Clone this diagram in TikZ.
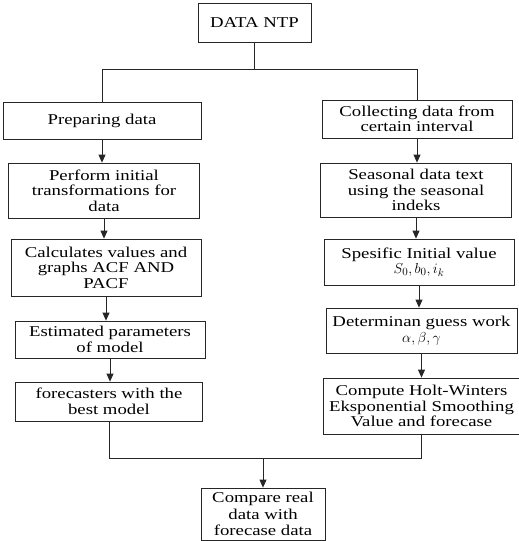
\documentclass[tikz,border=0pt]{standalone}
\usepackage{fontspec}
\setmainfont{Liberation Serif}[FakeStretch=1.25]
\usetikzlibrary{arrows.meta,calc}
\begin{document}
\begin{tikzpicture}[x=1pt,y=-1pt,
  box/.style={draw=black!85,line width=0.8pt,fill=white,inner sep=0pt,align=center,
    font=\fontsize{15}{15.5}\selectfont},
  ln/.style={draw=black!85,line width=0.8pt},
  arr/.style={ln,-{Triangle[width=7pt,length=8pt]}}]
\useasboundingbox (0,0) rectangle (519,541);
\node[box,minimum width=113,minimum height=39] (ntp) at (254.5,22.5) {DATA NTP};
\node[box,minimum width=198,minimum height=37] (prep) at (102,120.5) {Preparing data};
\node[box,minimum width=190,minimum height=38] (coll) at (417,119) {Collecting data from\\certain interval};
\node[box,minimum width=191,minimum height=55] (perf) at (104,190.5) {Perform initial\\transformations for\\data};
\node[box,minimum width=191,minimum height=54] (seas) at (416,190) {Seasonal data text\\using the seasonal\\indeks};
\node[box,minimum width=190,minimum height=57] (calc) at (106,267.5) {Calculates values and\\graphs ACF AND\\PACF};
\node[box,minimum width=190,minimum height=46] (spes) at (419,262) {Spesific Initial value\\$S_0, b_0, i_k$};
\node[box,minimum width=190,minimum height=37] (est) at (110,339.5) {Estimated parameters\\of model};
\node[box,minimum width=191,minimum height=45] (det) at (421.5,330.5) {Determinan guess work\\$\alpha, \beta, \gamma$};
\node[box,minimum width=187,minimum height=39] (fore) at (109,401.5) {forecasters with the\\best model};
\node[box,minimum width=197,minimum height=56] (comp) at (421.5,406) {Compute Holt-Winters\\Eksponential Smoothing\\Value and forecase};
\node[box,minimum width=124,minimum height=52,font=\fontsize{15}{16.5}\selectfont] (cmp) at (263,514) {Compare real\\data with\\forecase data};
% top split
\coordinate (sp) at ($(ntp.south)+(0,27)$);
\draw[ln] (ntp.south) -- (sp);
\draw[ln] (prep.north) |- (sp) -| (coll.north);
% left chain
\draw[arr] (prep.south) -- (prep.south |- perf.north);
\draw[arr] (perf.south) -- (perf.south |- calc.north);
\draw[arr] (calc.south) -- (calc.south |- est.north);
\draw[arr] (est.south) -- (est.south |- fore.north);
% right chain
\draw[arr] (coll.south) -- (coll.south |- seas.north);
\draw[arr] (seas.south) -- (seas.south |- spes.north);
\draw[arr] (spes.south) -- (spes.south |- det.north);
\draw[arr] (det.south) -- (det.south |- comp.north);
% merge
\coordinate (mg) at ($(cmp.north)+(0,-29)$);
\draw[ln] (fore.south) |- (mg) -| (comp.south);
\draw[arr] (mg) -- (cmp.north);
\end{tikzpicture}
\end{document}
